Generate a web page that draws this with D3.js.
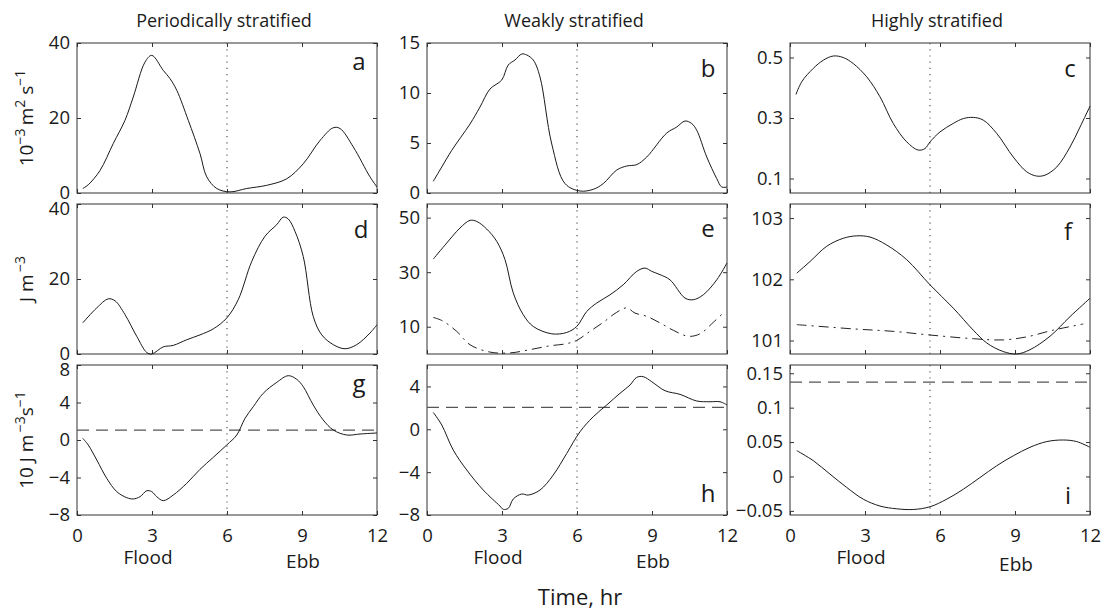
<!DOCTYPE html>
<html>
<head>
<meta charset="utf-8">
<script src="https://cdn.jsdelivr.net/npm/d3@7"></script>
<style>
  body { margin: 0; background: #fff; }
  text { font-family: "Open Sans", sans-serif; fill: #1a1a1a; }
</style>
</head>
<body>
<div id="chart"></div>
<script>
// ---- data (time in hr) ----
const timeTicks = [0, 3, 6, 9, 12]
const columnTitles = ["Periodically stratified", "Weakly stratified", "Highly stratified"]
const sideLabels = ["Flood", "Ebb"]

const ticksA = [0, 20, 40]
const ticksB = [0, 5, 10, 15]
const ticksC = [0.1, 0.3, 0.5]
const ticksD = [0, 20, 40]
const ticksE = [10, 30, 50]
const ticksF = [101, 102, 103]
const ticksG = [-8, -4, 0, 4, 8]
const ticksH = [-8, -4, 0, 4]
const ticksI = [-0.05, 0, 0.05, 0.1, 0.15]

const curveA = [[0.23,1.2],[0.45,2.2],[0.92,6],[1.45,13.2],[1.92,19.4],[2.25,25.6],[2.72,34.9],[2.99,36.7],[3.45,32.7],[3.72,30.5],[3.99,27.4],[4.45,19.4],[4.92,10.5],[5.19,4.3],[5.59,1.2],[6.12,0.3],[6.79,1.2],[7.59,2.05],[8.39,3.8],[9.05,7.8],[9.72,14],[10.25,17.4],[10.52,17.2],[11.05,12.3],[11.72,4.3],[12,1.6]]
const curveB = [[0.25,1.17],[0.59,2.6],[0.99,4.27],[1.72,6.9],[2.12,8.6],[2.52,10.4],[2.99,11.3],[3.25,12.8],[3.52,13.3],[3.79,13.9],[3.99,13.8],[4.25,13.3],[4.52,11.6],[4.99,4.9],[5.52,0.94],[6.12,0.2],[6.65,0.37],[7.05,0.94],[7.59,2.3],[7.99,2.7],[8.39,2.84],[8.79,3.6],[9.59,6.0],[9.99,6.6],[10.32,7.2],[10.59,6.94],[10.79,6.27],[11.19,3.6],[11.59,1.44],[11.79,0.6],[12,0.6]]
const curveC = [[0.24,0.378],[0.47,0.42],[0.93,0.464],[1.33,0.491],[1.73,0.505],[2.13,0.5],[2.53,0.48],[3.07,0.436],[3.6,0.37],[4.13,0.282],[4.67,0.221],[5.13,0.194],[5.4,0.199],[5.6,0.221],[6.0,0.254],[6.53,0.282],[6.93,0.298],[7.33,0.302],[7.73,0.293],[8.27,0.249],[8.93,0.171],[9.47,0.122],[9.87,0.108],[10.2,0.111],[10.67,0.138],[11.2,0.204],[11.6,0.27],[12,0.339]]
const curveD = [[0.23,8.3],[0.79,12.3],[1.25,14.7],[1.52,14.2],[1.92,10.5],[2.39,4.7],[2.79,0.4],[2.99,0],[3.45,1.9],[3.85,2.3],[4.39,3.8],[4.92,5.1],[5.45,6.7],[5.99,9.6],[6.45,14.5],[6.99,24.7],[7.52,31.4],[7.99,34.5],[8.25,36.5],[8.45,36],[8.72,32.7],[9.05,26],[9.45,10],[9.79,5.1],[10.25,2.5],[10.72,1.4],[11.19,2.5],[11.72,5.6],[12,7.8]]
const curveE = [[0.25,34.8],[0.79,40.7],[1.32,46.2],[1.72,49],[1.99,48.6],[2.39,45.8],[2.79,41.3],[3.12,34.6],[3.45,22.4],[3.85,14.4],[4.25,10.1],[4.99,7.4],[5.59,7.9],[5.99,10.1],[6.39,15.6],[6.79,18.7],[7.32,21.7],[7.85,25.4],[8.39,30.3],[8.72,31.5],[8.99,30.3],[9.32,29.1],[9.72,27.2],[10.32,20.5],[10.65,19.9],[11.05,21.7],[11.59,27.2],[12,33.4]]
const curveE2 = [[0.25,13.4],[0.59,12.3],[1.19,8.3],[1.72,3.4],[2.52,0.7],[3.32,0.4],[4.12,1.6],[4.92,3.0],[5.59,3.8],[5.99,5.0],[6.52,8.3],[7.05,11.6],[7.59,15.3],[7.99,16.9],[8.32,15],[8.79,13.8],[9.32,11.4],[9.85,8.7],[10.45,6.5],[10.92,7.4],[11.45,11.6],[11.85,15]]
const curveF = [[0.27,102.1],[0.8,102.29],[1.47,102.54],[2.13,102.67],[2.67,102.71],[3.2,102.69],[3.87,102.56],[4.67,102.32],[5.6,101.91],[6.53,101.53],[7.33,101.17],[7.87,100.96],[8.53,100.82],[9.07,100.78],[9.6,100.85],[10.4,101.07],[11.2,101.39],[12,101.69]]
const curveF2 = [[0.27,101.26],[2.53,101.19],[4.13,101.15],[5.6,101.09],[7.33,101.03],[8.53,101.01],[9.47,101.06],[10.53,101.17],[11.73,101.27]]
const curveG = [[0.23,0.18],[0.45,-0.53],[0.79,-2.13],[1.19,-4.09],[1.59,-5.51],[1.99,-6.15],[2.25,-6.29],[2.52,-6.05],[2.79,-5.41],[2.99,-5.51],[3.19,-6.05],[3.45,-6.47],[3.85,-5.87],[4.39,-4.62],[4.92,-3.13],[5.45,-1.85],[5.99,-0.53],[6.39,0.53],[6.72,2.31],[7.05,3.55],[7.45,4.98],[7.99,6.15],[8.45,6.86],[8.79,6.47],[9.05,5.69],[9.45,3.73],[9.85,2.13],[10.25,1.07],[10.79,0.53],[11.32,0.64],[12,0.75]]
const curveH = [[0.25,1.58],[0.59,0.4],[1.05,-1.94],[1.59,-3.8],[2.25,-5.67],[2.92,-7.17],[3.05,-7.47],[3.25,-7.38],[3.45,-6.51],[3.79,-6.04],[4.05,-6.14],[4.52,-5.67],[5.05,-4.27],[5.59,-2.25],[6.12,-0.23],[6.65,1.17],[7.19,2.27],[7.72,3.36],[8.12,4.13],[8.39,4.85],[8.65,4.91],[8.99,4.44],[9.52,3.6],[10.12,3.26],[10.79,2.64],[11.32,2.57],[11.72,2.57],[12,2.27]]
const curveI = [[0.27,0.0376],[0.93,0.023],[1.6,0.0034],[2.27,-0.016],[2.93,-0.033],[3.6,-0.043],[4.27,-0.047],[4.93,-0.048],[5.6,-0.044],[6.27,-0.033],[6.93,-0.0186],[7.6,-0.0015],[8.27,0.0156],[8.93,0.030],[9.6,0.0424],[10.27,0.0507],[10.93,0.053],[11.47,0.0507],[12,0.0424]]

// horizontal reference levels (dashed) and slack-water time (dotted)
const levelG = 1.05
const levelH = 2.05
const levelI = 0.137
const slackTimes = [6, 6, 5.6]

// ---- layout ----
const W = 1102, H = 610
const PW = 300, PH = 150
const colX = [77, 427, 790]
const rowY = [43, 204, 365]

const panels = [
  { key: "a", col: 0, row: 0, domain: [0, 40],          ticks: ticksA, solid: curveA, letter: [-18, 27] },
  { key: "b", col: 1, row: 0, domain: [0, 15],          ticks: ticksB, solid: curveB, letter: [-19, 34] },
  { key: "c", col: 2, row: 0, domain: [0.052, 0.548],   ticks: ticksC, solid: curveC, letter: [-20, 34] },
  { key: "d", col: 0, row: 1, domain: [0, 40],          ticks: ticksD, solid: curveD, letter: [-16, 34] },
  { key: "e", col: 1, row: 1, domain: [0, 55],          ticks: ticksE, solid: curveE, dashdot: curveE2, letter: [-19, 33] },
  { key: "f", col: 2, row: 1, domain: [100.78, 103.23], ticks: ticksF, solid: curveF, dashdot: curveF2, letter: [-22, 36] },
  { key: "g", col: 0, row: 2, domain: [-8, 8],          ticks: ticksG, solid: curveG, level: levelG, letter: [-18, 27] },
  { key: "h", col: 1, row: 2, domain: [-8, 6],          ticks: ticksH, solid: curveH, level: levelH, letter: [-19, 137] },
  { key: "i", col: 2, row: 2, domain: [-0.056, 0.162],  ticks: ticksI, solid: curveI, level: levelI, letter: [-22, 139] }
]

// y labels: [text, superscript?]
const rowLabels = [
  [["10", 0], ["\u2212" + "3", 1], ["\u2009m", 0], ["2", 1], [" s", 0], ["\u2212" + "1", 1]],
  [["J m", 0], ["\u2009\u2212" + "3", 1]],
  [["10 J m", 0], ["\u2009\u2212" + "3", 1], ["s", 0], ["\u2212" + "1", 1]]
]

const fmt = function(v) { return (v < 0 ? "\u2212" : "") + Math.abs(v) }

const svg = d3.select("#chart").append("svg")
  .attr("width", W)
  .attr("height", H)

const line = function(x, y) {
  return d3.line()
    .x(function(d) { return x(d[0]) })
    .y(function(d) { return y(d[1]) })
    .curve(d3.curveCatmullRom.alpha(0.5))
}

panels.forEach(function(p) {
  const g = svg.append("g")
    .attr("transform", "translate(" + colX[p.col] + "," + rowY[p.row] + ")")

  const x = d3.scaleLinear().domain([0, 12]).range([0, PW])
  const y = d3.scaleLinear().domain(p.domain).range([PH, 0])

  // axes, MATLAB style: ticks inside on all four sides
  g.append("g")
    .attr("transform", "translate(0," + PH + ")")
    .call(d3.axisBottom(x).tickValues(timeTicks).tickSizeInner(-4).tickSizeOuter(0).tickPadding(14)
      .tickFormat(p.row === 2 ? fmt : ""))
  g.append("g")
    .call(d3.axisTop(x).tickValues(timeTicks).tickSizeInner(-4).tickSizeOuter(0).tickFormat(""))
  const yAx = g.append("g")
    .call(d3.axisLeft(y).tickValues(p.ticks).tickSizeInner(-4).tickSizeOuter(0).tickPadding(7).tickFormat(fmt))
  g.append("g")
    .attr("transform", "translate(" + PW + ",0)")
    .call(d3.axisRight(y).tickValues(p.ticks).tickSizeInner(-4).tickSizeOuter(0).tickFormat(""))

  g.selectAll(".domain").remove()
  g.selectAll(".tick line").attr("stroke", "#333")
  g.selectAll(".tick text").attr("font-size", "18.5px").attr("fill", "#1a1a1a")

  // top label sits a little lower on the stacked rows so it clears the panel above
  if (p.row > 0) {
    yAx.selectAll(".tick text")
      .filter(function(d) { return y(d) < 1 })
      .attr("y", 5)
  }

  // frame
  g.append("rect")
    .attr("width", PW).attr("height", PH)
    .attr("fill", "none").attr("stroke", "#333").attr("stroke-width", 1)

  // slack water (dotted)
  g.append("line")
    .attr("x1", x(slackTimes[p.col])).attr("x2", x(slackTimes[p.col]))
    .attr("y1", 0).attr("y2", PH)
    .attr("stroke", "#555").attr("stroke-width", 1.2)
    .attr("stroke-dasharray", "1.2,5")

  if (p.level !== undefined) {
    g.append("line")
      .attr("x1", x(0)).attr("x2", x(12))
      .attr("y1", y(p.level)).attr("y2", y(p.level))
      .attr("stroke", "#555").attr("stroke-width", 1.2)
      .attr("stroke-dasharray", "12,7")
  }

  if (p.dashdot) {
    g.append("path")
      .datum(p.dashdot)
      .attr("d", line(x, y))
      .attr("fill", "none").attr("stroke", "#222").attr("stroke-width", 1)
      .attr("stroke-dasharray", "10,5,2,5")
  }

  g.append("path")
    .datum(p.solid)
    .attr("d", line(x, y))
    .attr("fill", "none").attr("stroke", "#1a1a1a").attr("stroke-width", 1)

  // panel letter
  g.append("text")
    .attr("x", PW + p.letter[0])
    .attr("y", p.letter[1])
    .attr("text-anchor", "middle")
    .attr("font-size", "24px")
    .text(p.key)
})

// column titles
columnTitles.forEach(function(t, i) {
  svg.append("text")
    .attr("x", colX[i] + PW / 2 - 3)
    .attr("y", 27)
    .attr("text-anchor", "middle")
    .attr("font-size", "18px")
    .text(t)
})

// Flood / Ebb under bottom row
colX.forEach(function(cx, i) {
  const x = d3.scaleLinear().domain([0, 12]).range([cx, cx + PW])
  svg.append("text")
    .attr("x", x(3) - 4).attr("y", 564)
    .attr("text-anchor", "middle").attr("font-size", "19px")
    .text(sideLabels[0])
  svg.append("text")
    .attr("x", x(9) + 1).attr("y", 568 + (i === 2 ? 3 : 0))
    .attr("text-anchor", "middle").attr("font-size", "19px")
    .text(sideLabels[1])
})

// rotated row labels
rowLabels.forEach(function(parts, r) {
  const t = svg.append("text")
    .attr("transform", "translate(33," + (rowY[r] + PH / 2) + ") rotate(-90)")
    .attr("text-anchor", "middle")
    .attr("font-size", "19px")
  let up = false
  parts.forEach(function(pt) {
    const ts = t.append("tspan").text(pt[0])
    if (pt[1]) {
      ts.attr("font-size", "14px").attr("dy", up ? 0 : -8)
      up = true
    } else {
      ts.attr("dy", up ? 8 : 0)
      up = false
    }
  })
})

// x axis title
svg.append("text")
  .attr("x", 580)
  .attr("y", 605)
  .attr("text-anchor", "middle")
  .attr("font-size", "22px")
  .text("Time, hr")
</script>
</body>
</html>
